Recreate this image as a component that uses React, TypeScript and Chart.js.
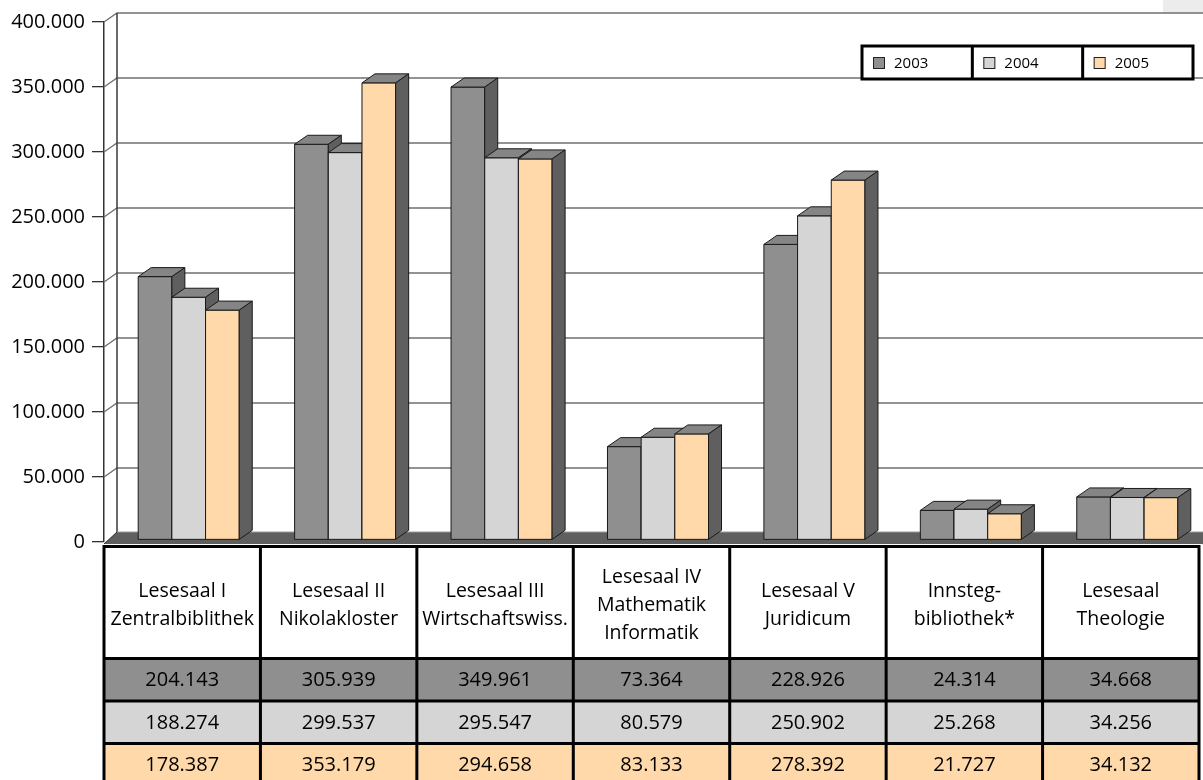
import React, { useEffect, useRef } from "react";
import { Chart, registerables } from "chart.js";

Chart.register(...registerables);

// ---------- data ----------
const categories: string[][] = [
  ["Lesesaal I", "Zentralbiblithek"],
  ["Lesesaal II", "Nikolakloster"],
  ["Lesesaal III", "Wirtschaftswiss."],
  ["Lesesaal IV", "Mathematik", "Informatik"],
  ["Lesesaal V", "Juridicum"],
  ["Innsteg-", "bibliothek*"],
  ["Lesesaal", "Theologie"],
];
const seriesLabels = ["2003", "2004", "2005"];
const values2003 = [204143, 305939, 349961, 73364, 228926, 24314, 34668];
const values2004 = [188274, 299537, 295547, 80579, 250902, 25268, 34256];
const values2005 = [178387, 353179, 294658, 83133, 278392, 21727, 34132];
const yMin = 0;
const yMax = 400000;
const yStep = 50000;

// ---------- styles ----------
const seriesColors = ["#8f8f8f", "#d5d5d5", "#ffd9a9"];
const TOP_FACE = "#858585";
const SIDE_FACE = "#5f5f5f";
const FLOOR = "#5f5f5f";
const FONT = "'Open Sans', 'DejaVu Sans', sans-serif";
const DX = 13;
const DY = -9;
const SHIFT = 6.5;

const fmt = (v: number) =>
  String(Math.round(v)).replace(/\B(?=(\d{3})+(?!\d))/g, ".");

const scene3d = {
  id: "scene3d",
  beforeDatasetsDraw(chart: any) {
    const { ctx, chartArea, scales } = chart;
    const y = scales.y;
    const W = chart.width;
    const left = chartArea.left;
    const bottom = chartArea.bottom;
    ctx.save();
    // small grey patch in the top-right corner
    ctx.fillStyle = "#ececec";
    ctx.fillRect(W - 40, 0, 40, 13);

    // back wall grid lines
    ctx.strokeStyle = "#707070";
    ctx.lineWidth = 1.3;
    y.ticks.forEach((t: any) => {
      if (t.value === yMin) return;
      const py = y.getPixelForValue(t.value);
      ctx.beginPath();
      ctx.moveTo(left, py);
      ctx.lineTo(left + DX, py + DY);
      ctx.lineTo(W, py + DY);
      ctx.stroke();
    });
    // back wall left edge
    ctx.strokeStyle = "#3a3a3a";
    ctx.lineWidth = 1.5;
    ctx.beginPath();
    ctx.moveTo(left + DX, y.getPixelForValue(yMax) + DY);
    ctx.lineTo(left + DX, bottom - 10);
    ctx.stroke();

    // floor slab
    ctx.fillStyle = FLOOR;
    ctx.beginPath();
    ctx.moveTo(left, bottom + 2);
    ctx.lineTo(left + DX, bottom - 10);
    ctx.lineTo(W, bottom - 10);
    ctx.lineTo(W, bottom + 2);
    ctx.closePath();
    ctx.fill();
    ctx.strokeStyle = "#9a9a9a";
    ctx.lineWidth = 1;
    ctx.beginPath();
    ctx.moveTo(left + DX, bottom - 10);
    ctx.lineTo(W, bottom - 10);
    ctx.stroke();
    ctx.strokeStyle = "#2a2a2a";
    ctx.beginPath();
    ctx.moveTo(left, bottom + 2);
    ctx.lineTo(left + DX, bottom - 10);
    ctx.stroke();
    ctx.restore();
  },
  beforeDatasetDraw() {
    return false;
  },
  afterDatasetsDraw(chart: any) {
    const { ctx } = chart;
    const n = chart.data.labels.length;
    ctx.save();
    ctx.lineWidth = 1;
    ctx.strokeStyle = "#1a1a1a";
    ctx.lineJoin = "round";
    for (let i = 0; i < n; i++) {
      chart.data.datasets.forEach((ds: any, d: number) => {
        const el = chart.getDatasetMeta(d).data[i];
        const { x, y, base, width } = el.getProps(["x", "y", "base", "width"], true);
        const l = x - width / 2 + SHIFT;
        const r = x + width / 2 + SHIFT;
        const b = base - 2;
        // front
        ctx.fillStyle = ds.backgroundColor;
        ctx.beginPath();
        ctx.rect(l, y, r - l, b - y);
        ctx.fill();
        ctx.stroke();
        // top
        ctx.fillStyle = TOP_FACE;
        ctx.beginPath();
        ctx.moveTo(l, y);
        ctx.lineTo(l + DX, y + DY);
        ctx.lineTo(r + DX, y + DY);
        ctx.lineTo(r, y);
        ctx.closePath();
        ctx.fill();
        ctx.stroke();
        // side
        ctx.fillStyle = SIDE_FACE;
        ctx.beginPath();
        ctx.moveTo(r, y);
        ctx.lineTo(r + DX, y + DY);
        ctx.lineTo(r + DX, b + DY);
        ctx.lineTo(r, b);
        ctx.closePath();
        ctx.fill();
        ctx.stroke();
      });
    }
    ctx.restore();
  },
  afterDraw(chart: any) {
    const { ctx, chartArea, scales } = chart;
    const x = scales.x;
    const n = chart.data.labels.length;
    const left = x.left;
    const right = x.right;
    const colW = (right - left) / n;
    const top = chartArea.bottom + 4.5;
    const headerH = 112;
    const rowH = 42.5;
    const H = chart.height;
    const datasets = chart.data.datasets;

    ctx.save();
    // row backgrounds
    datasets.forEach((ds: any, d: number) => {
      ctx.fillStyle = ds.backgroundColor;
      ctx.fillRect(left, top + headerH + d * rowH, right - left, rowH);
    });
    // texts
    ctx.fillStyle = "#000";
    ctx.textAlign = "center";
    ctx.textBaseline = "middle";
    for (let i = 0; i < n; i++) {
      const cx = x.getPixelForValue(i);
      const lines: string[] = chart.data.labels[i];
      ctx.font = `19.5px ${FONT}`;
      const lh = 28;
      const cy = top + headerH / 2 + 3;
      lines.forEach((s, k) => {
        ctx.fillText(s, cx, cy + (k - (lines.length - 1) / 2) * lh);
      });
      ctx.font = `20px ${FONT}`;
      datasets.forEach((ds: any, d: number) => {
        ctx.fillText(fmt(ds.data[i]), cx, top + headerH + d * rowH + rowH / 2 + 1);
      });
    }
    // grid lines
    ctx.strokeStyle = "#000";
    ctx.lineWidth = 3;
    ctx.beginPath();
    ctx.moveTo(left - 1.5, top);
    ctx.lineTo(right + 1.5, top);
    for (let d = 0; d < datasets.length; d++) {
      const yy = top + headerH + d * rowH;
      ctx.moveTo(left, yy);
      ctx.lineTo(right, yy);
    }
    for (let i = 0; i <= n; i++) {
      const xx = left + i * colW;
      ctx.moveTo(xx, top);
      ctx.lineTo(xx, H);
    }
    ctx.stroke();

    // legend box
    const lgL = 862;
    const lgT = 46;
    const lgW = 331;
    const lgH = 33;
    const cellW = lgW / datasets.length;
    ctx.fillStyle = "#fff";
    ctx.fillRect(lgL, lgT, lgW, lgH);
    ctx.font = `15px ${FONT}`;
    ctx.textAlign = "left";
    datasets.forEach((ds: any, d: number) => {
      const cl = lgL + d * cellW;
      ctx.fillStyle = ds.backgroundColor;
      ctx.fillRect(cl + 11, lgT + 11, 12, 12);
      ctx.lineWidth = 1;
      ctx.strokeStyle = "#222";
      ctx.strokeRect(cl + 11.5, lgT + 11.5, 11, 11);
      ctx.fillStyle = "#000";
      ctx.fillText(ds.label, cl + 32, lgT + lgH / 2 + 1);
    });
    ctx.strokeStyle = "#000";
    ctx.lineWidth = 3;
    ctx.strokeRect(lgL, lgT, lgW, lgH);
    ctx.beginPath();
    for (let d = 1; d < datasets.length; d++) {
      ctx.moveTo(lgL + d * cellW, lgT);
      ctx.lineTo(lgL + d * cellW, lgT + lgH);
    }
    ctx.stroke();
    ctx.restore();
  },
};

export default function App() {
  const ref = useRef<HTMLCanvasElement | null>(null);
  useEffect(() => {
    if (!ref.current) return;
    const seriesValues = [values2003, values2004, values2005];
    const chart = new Chart(ref.current, {
      type: "bar",
      data: {
        labels: categories as any,
        datasets: seriesLabels.map((label, d) => ({
          label,
          data: seriesValues[d],
          backgroundColor: seriesColors[d],
          borderWidth: 0,
          categoryPercentage: 0.646,
          barPercentage: 1,
        })),
      },
      options: {
        responsive: false,
        maintainAspectRatio: false,
        animation: false,
        events: [],
        layout: { padding: { left: 0, right: 4, top: 22, bottom: 238 } },
        plugins: { legend: { display: false }, tooltip: { enabled: false } },
        scales: {
          x: { display: false },
          y: {
            min: yMin,
            max: yMax,
            afterFit: (scale: any) => {
              scale.width = 104;
            },
            ticks: {
              stepSize: yStep,
              padding: 7,
              color: "#000",
              font: { family: FONT, size: 20 },
              callback: (v: any) => fmt(Number(v)),
            },
            grid: {
              drawOnChartArea: false,
              drawTicks: true,
              tickLength: 12,
              color: "#333",
              lineWidth: 1.3,
            },
            border: { display: true, color: "#333", width: 1.5 },
          },
        },
      },
      plugins: [scene3d],
    });
    return () => chart.destroy();
  }, []);
  return (
    <div style={{ position: "fixed", left: 0, top: 0, width: 1203, height: 780, background: "#fff" }}>
      <canvas ref={ref} width={1203} height={780} style={{ display: "block" }} />
    </div>
  );
}
